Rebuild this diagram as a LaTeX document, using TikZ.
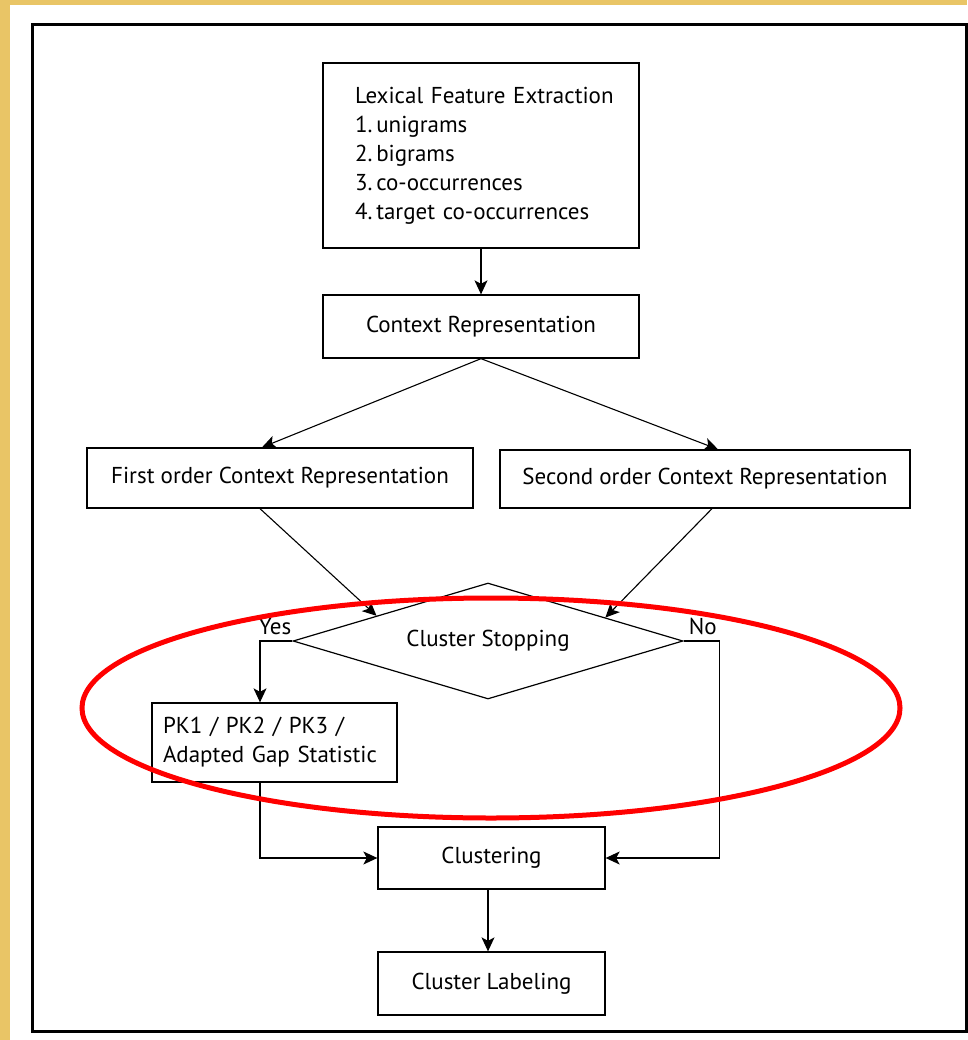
\documentclass[tikz,border=0pt]{standalone}
\usepackage{fontspec}
\setmainfont{PT Sans}
\usepackage{tikz}
\usetikzlibrary{shapes.geometric, arrows.meta, positioning, calc}
\usepackage{xcolor}
\definecolor{gold}{HTML}{E9C566}
\definecolor{ringred}{HTML}{FF0000}

\begin{document}
\begin{tikzpicture}[x=1pt, y=-1pt,
  box/.style={rectangle, draw, line width=1.3pt, inner sep=0pt,
    font=\fontsize{23}{29}\selectfont},
  decision/.style={diamond, draw, line width=1.2pt, aspect=3.36, inner sep=0pt,
    minimum width=390pt, minimum height=116pt, font=\fontsize{23}{29}\selectfont},
  arr/.style={-{Stealth[length=14pt, width=13pt, inset=3.5pt]}, line width=1.1pt},
  lbl/.style={font=\fontsize{23}{26}\selectfont, inner sep=0pt},
]
  % page background and frame
  \fill[gold] (0,0) rectangle (967,1040);
  \fill[white] (10,5) rectangle (967,1040);
  \draw[line width=3pt] (32,25) rectangle (966,1031);

  \node[box, text width=252pt, align=left, inner xsep=32pt, minimum height=185pt] (lex) at (481,155.5)
    {\mbox{Lexical Feature Extraction}\\1.\,unigrams\\2.\,bigrams\\3.\,co-occurrences\\4.\,target co-occurrences};
  \node[box, minimum width=316pt, minimum height=63pt] (ctx) at (481,326.5) {Context Representation};
  \node[box, minimum width=386pt, minimum height=60pt] (first) at (280,478)
    {First order Context Representation};
  \node[box, minimum width=410pt, minimum height=58pt] (second) at (705,479)
    {Second order Context Representation};
  \node[decision] (stop) at (488,641) {Cluster Stopping};
  \node[box, text width=223pt, align=left, inner xsep=11pt, minimum height=79pt] (pk) at (274.5,742.5)
    {PK1 / PK2 / PK3 /\\\mbox{Adapted Gap Statistic}};
  \node[box, minimum width=227pt, minimum height=62pt] (clus) at (491.5,858) {Clustering};
  \node[box, minimum width=227pt, minimum height=63pt] (labeling) at (491.5,983.5) {Cluster Labeling};

  \node[lbl, anchor=south east] (yes) at ([shift={(-1,-6)}]stop.west) {Yes};
  \node[lbl, anchor=south west] (no) at ([shift={(5,-6)}]stop.east) {No};

  \draw[arr] (lex) -- (ctx);
  \draw[arr] (ctx.south) -- ([xshift=-18]first.north);
  \draw[arr] (ctx.south) -- ([xshift=13]second.north);
  \draw[arr] ([xshift=-20]first.south) -- ($(stop.north)!0.57!(stop.west)$);
  \draw[arr] ([xshift=7]second.south) -- ($(stop.north)!0.6!(stop.east)$);
  \draw[arr] (stop.west) -| ([xshift=-14.5]pk.north);
  \draw[arr] ([xshift=-14.5]pk.south) |- (clus.west);
  \draw[arr] (stop.east) -- ++(36,0) |- (clus.east);
  \draw[arr] ([xshift=-3.5]clus.south) -- ([xshift=-3.5]labeling.north);

  % highlight ring
  \draw[ringred, line width=5pt] (491,708) ellipse [x radius=409pt, y radius=110pt];
\end{tikzpicture}
\end{document}
